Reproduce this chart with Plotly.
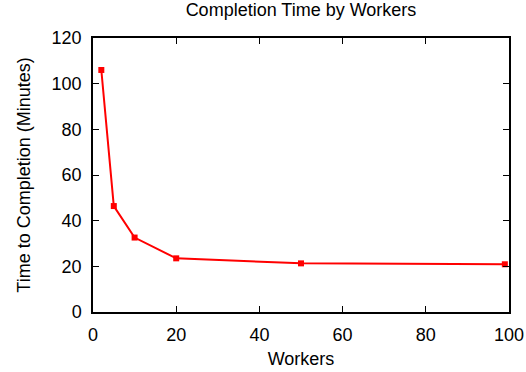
import plotly.graph_objects as go

workers = [2, 5, 10, 20, 50, 99]
minutes = [106, 46.4, 32.6, 23.5, 21.3, 20.9]
x_ticks = [0, 20, 40, 60, 80, 100]
y_ticks = [0, 20, 40, 60, 80, 100, 120]

FONT = "Liberation Sans, Arial, Helvetica, sans-serif"

fig = go.Figure()
fig.add_trace(go.Scatter(
    x=workers, y=minutes, mode="lines+markers",
    line=dict(color="#ff0000", width=2),
    marker=dict(symbol="square", size=6, color="#ff0000"),
    showlegend=False,
))

axis_common = dict(
    showline=True, linecolor="#000000", linewidth=1.5, mirror="ticks",
    ticks="inside", ticklen=6, tickcolor="#000000", tickwidth=1,
    showgrid=False, zeroline=False, automargin=False,
    tickfont=dict(family=FONT, size=18, color="#000000"),
)

fig.update_layout(
    width=526, height=372,
    margin=dict(l=93, r=17, t=38, b=60),
    paper_bgcolor="white", plot_bgcolor="white",
    font=dict(family=FONT, size=18, color="#000000"),
    title=dict(text="Completion Time by Workers", x=0.5, xanchor="center",
               xref="paper", y=1 - 3 / 372, yanchor="top", yref="container",
               font=dict(size=18)),
    xaxis=dict(range=[0, 100], tickvals=x_ticks, ticklabelstandoff=6,
               title=dict(text="Workers", standoff=8, font=dict(size=18)), **axis_common),
    yaxis=dict(range=[0, 120], tickvals=y_ticks, ticklabelstandoff=6,
               title=dict(text="Time to Completion (Minutes)", standoff=16, font=dict(size=18)),
               **axis_common),
)

fig.write_html("out.html", config={"displayModeBar": False},
               post_script="document.body.style.margin='0';")
